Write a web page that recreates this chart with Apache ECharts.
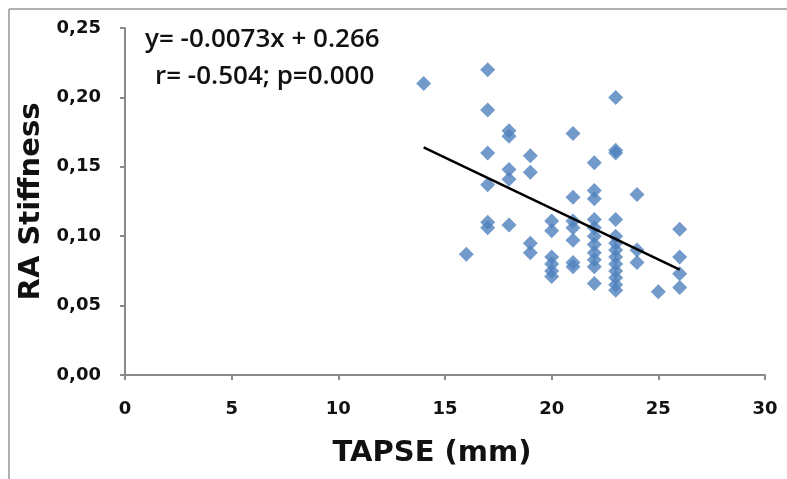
<!DOCTYPE html>
<html>
<head>
<meta charset="utf-8">
<script src="https://cdn.jsdelivr.net/npm/echarts@6/dist/echarts.min.js"></script>
<style>
html,body{margin:0;padding:0;background:#fff;}
#c{width:787px;height:479px;}
</style>
</head>
<body>
<div id="c"></div>
<script>
const tapse = [14, 16,
  17, 17, 17, 17, 17, 17,
  18, 18, 18, 18, 18,
  19, 19, 19, 19,
  20, 20, 20, 20, 20, 20,
  21, 21, 21, 21, 21, 21, 21,
  22, 22, 22, 22, 22, 22, 22, 22, 22, 22, 22,
  23, 23, 23, 23, 23, 23, 23, 23, 23, 23, 23, 23, 23,
  24, 24, 24,
  25,
  26, 26, 26, 26];
const stiffness = [0.210, 0.087,
  0.220, 0.191, 0.160, 0.137, 0.110, 0.106,
  0.176, 0.172, 0.148, 0.141, 0.108,
  0.158, 0.146, 0.095, 0.088,
  0.111, 0.104, 0.085, 0.080, 0.075, 0.071,
  0.174, 0.128, 0.111, 0.106, 0.097, 0.081, 0.078,
  0.153, 0.133, 0.127, 0.112, 0.106, 0.100, 0.094, 0.088, 0.083, 0.078, 0.066,
  0.200, 0.162, 0.160, 0.112, 0.100, 0.095, 0.090, 0.085, 0.080, 0.075, 0.070, 0.065, 0.061,
  0.130, 0.090, 0.081,
  0.060,
  0.105, 0.085, 0.073, 0.063];
const trendX = [14, 26];
const trendY = [0.164, 0.076];
const xTicks = [0, 5, 10, 15, 20, 25, 30];
const yTicks = ['0,00', '0,05', '0,10', '0,15', '0,20', '0,25'];
const equationText = 'y= -0.0073x + 0.266';
const statsText = 'r= -0.504; p=0.000';

const chart = echarts.init(document.getElementById('c'), null, {renderer: 'canvas'});
const tickFont = '"DejaVu Sans", sans-serif';
const titleFont = '"DejaVu Sans", sans-serif';
const noteFont = '"Open Sans", "DejaVu Sans", sans-serif';
chart.setOption({
  animation: false,
  backgroundColor: '#fff',
  grid: {left: 125, right: 22, top: 28, bottom: 104, containLabel: false},
  xAxis: {
    type: 'value', min: 0, max: 30, interval: 5,
    name: 'TAPSE (mm)', nameLocation: 'middle', nameGap: 64,
    nameTextStyle: {fontFamily: titleFont, fontWeight: 'bold', fontSize: 29, color: '#111', padding: [0, 26, 0, 0]},
    axisLine: {show: true, lineStyle: {color: '#8a8a8a', width: 2}},
    axisTick: {show: true, inside: false, length: 5, lineStyle: {color: '#8a8a8a', width: 2}},
    axisLabel: {fontFamily: tickFont, fontWeight: 'bold', fontSize: 18, color: '#111', margin: 25,
      formatter: v => xTicks.indexOf(v) >= 0 ? String(v) : ''},
    splitLine: {show: false}
  },
  yAxis: {
    type: 'value', min: 0, max: 0.25, interval: 0.05,
    name: 'RA Stiffness', nameLocation: 'middle', nameGap: 77,
    nameTextStyle: {fontFamily: titleFont, fontWeight: 'bold', fontSize: 29, color: '#111'},
    axisLine: {show: true, lineStyle: {color: '#8a8a8a', width: 2}},
    axisTick: {show: true, inside: false, length: 5, lineStyle: {color: '#8a8a8a', width: 2}},
    axisLabel: {fontFamily: tickFont, fontWeight: 'bold', fontSize: 18, color: '#111', margin: 24,
      formatter: v => yTicks[Math.round(v / 0.05)]},
    splitLine: {show: false}
  },
  series: [
    {
      type: 'scatter',
      data: tapse.map((x, i) => [x, stiffness[i]]),
      symbol: 'diamond', symbolSize: 15,
      itemStyle: {color: '#4F81BD'},
      z: 2
    },
    {
      type: 'line',
      data: trendX.map((x, i) => [x, trendY[i]]),
      symbol: 'none',
      lineStyle: {color: '#000', width: 2.5},
      z: 3
    }
  ],
  graphic: [
    {type: 'line', shape: {x1: 9, y1: 9, x2: 787, y2: 9}, style: {stroke: '#b0b0b0', lineWidth: 2}},
    {type: 'line', shape: {x1: 9, y1: 9, x2: 9, y2: 479}, style: {stroke: '#b0b0b0', lineWidth: 2}},
    {type: 'text', left: 145, top: 27, style: {text: equationText, fontFamily: noteFont, fontSize: 26, fontWeight: 600, fill: '#111'}},
    {type: 'text', left: 155, top: 64, style: {text: statsText, fontFamily: noteFont, fontSize: 26, fontWeight: 600, fill: '#111'}}
  ]
});
</script>
</body>
</html>
